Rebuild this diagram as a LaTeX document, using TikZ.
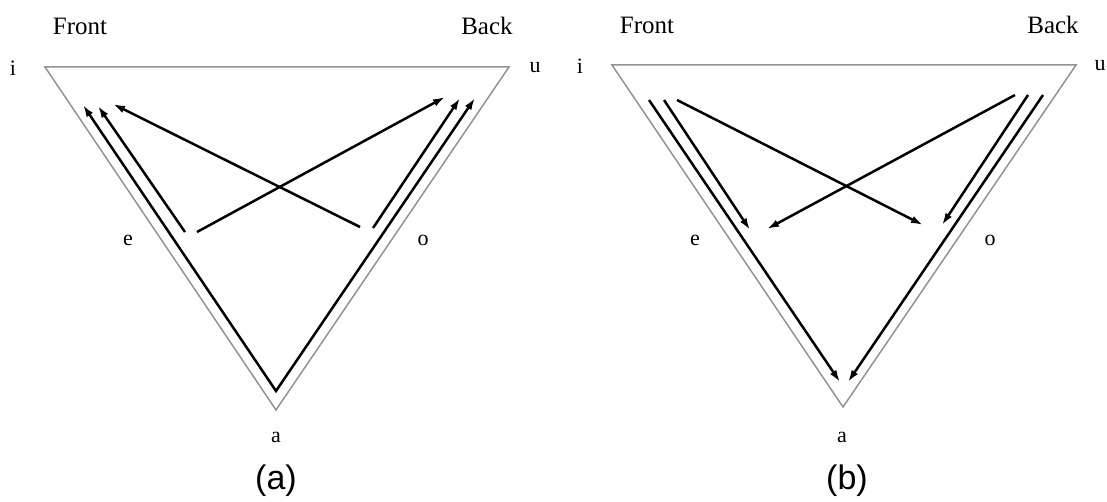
\documentclass[tikz,border=0pt]{standalone}
\usepackage{fontspec}
\setmainfont{Liberation Serif}
\newfontfamily\capfont{Liberation Sans}
\usetikzlibrary{arrows.meta}

\begin{document}
\begin{tikzpicture}[
    x=0.5pt, y=-0.5pt,
    tri/.style={draw=gray!85, line width=0.75pt, line join=miter},
    arrow/.style={-{Latex[length=6pt, width=3.8pt]}, line width=1.25pt},
    twoarrow/.style={{Latex[length=6pt, width=3.8pt]}-{Latex[length=6pt, width=3.8pt]},
        line width=1.25pt, line join=miter},
    vowel/.style={font=\fontsize{11}{13}\selectfont},
    side/.style={font=\fontsize{12.5}{14}\selectfont},
    panel/.style={font=\capfont\fontsize{17}{19}\selectfont}
]
\useasboundingbox (0,0) rectangle (1107,502);

% ---------------- Panel (a) ----------------
\coordinate (ai) at (45,67);
\coordinate (au) at (509,67);
\coordinate (aa) at (276,410);
\draw[tri] (ai) -- (au) -- (aa) -- cycle;

\node[side] (afront) at (80,26) {Front};
\node[side] (aback) at (487,26) {Back};
\node[vowel] (ali) at (13,68) {i};
\node[vowel] (alu) at (535,68) {u};
\node[vowel] (ale) at (128,240) {e};
\node[vowel] (alo) at (423,240) {o};
\node[vowel] (ala) at (276,437) {a};
\node[panel] (acap) at (276,481) {(a)};

% arrow ends
\coordinate (av) at (276,391);
\coordinate (ai1) at (83,105);
\coordinate (ai2) at (98,106);
\coordinate (ai3) at (113,104);
\coordinate (au1) at (445,97);
\coordinate (au2) at (460,98);
\coordinate (au3) at (475,98);
\coordinate (ae1) at (185,232);
\coordinate (ae2) at (197,232);
\coordinate (ao1) at (360,227);
\coordinate (ao2) at (373,228);

% arrows: from a, e and o up to the top
\draw[twoarrow] (ai1) -- (av) -- (au3);
\draw[arrow] (ae1) -- (ai2);
\draw[arrow] (ae2) -- (au1);
\draw[arrow] (ao1) -- (ai3);
\draw[arrow] (ao2) -- (au2);

% ---------------- Panel (b) ----------------
\coordinate (bi) at (612,65);
\coordinate (bu) at (1076,65);
\coordinate (ba) at (843,407);
\draw[tri] (bi) -- (bu) -- (ba) -- cycle;

\node[side] (bfront) at (647,25) {Front};
\node[side] (bback) at (1053,25) {Back};
\node[vowel] (bli) at (580,66) {i};
\node[vowel] (blu) at (1100,66) {u};
\node[vowel] (ble) at (695,240) {e};
\node[vowel] (blo) at (990,240) {o};
\node[vowel] (bla) at (842,437) {a};
\node[panel] (bcap) at (847,481) {(b)};

% arrow ends
\coordinate (bi1) at (649,100);
\coordinate (bi2) at (664,100);
\coordinate (bi3) at (677,100);
\coordinate (bu1) at (1015,95);
\coordinate (bu2) at (1028,95);
\coordinate (bu3) at (1043,95);
\coordinate (be1) at (750,230);
\coordinate (be2) at (767,229);
\coordinate (bo1) at (923,225);
\coordinate (bo2) at (942,225);
\coordinate (bv1) at (840,382);
\coordinate (bv2) at (848,382);

% arrows: from the top down to e, o and a
\draw[arrow] (bi1) -- (bv1);
\draw[arrow] (bu3) -- (bv2);
\draw[arrow] (bi2) -- (be1);
\draw[arrow] (bu1) -- (be2);
\draw[arrow] (bi3) -- (bo1);
\draw[arrow] (bu2) -- (bo2);

\end{tikzpicture}
\end{document}
